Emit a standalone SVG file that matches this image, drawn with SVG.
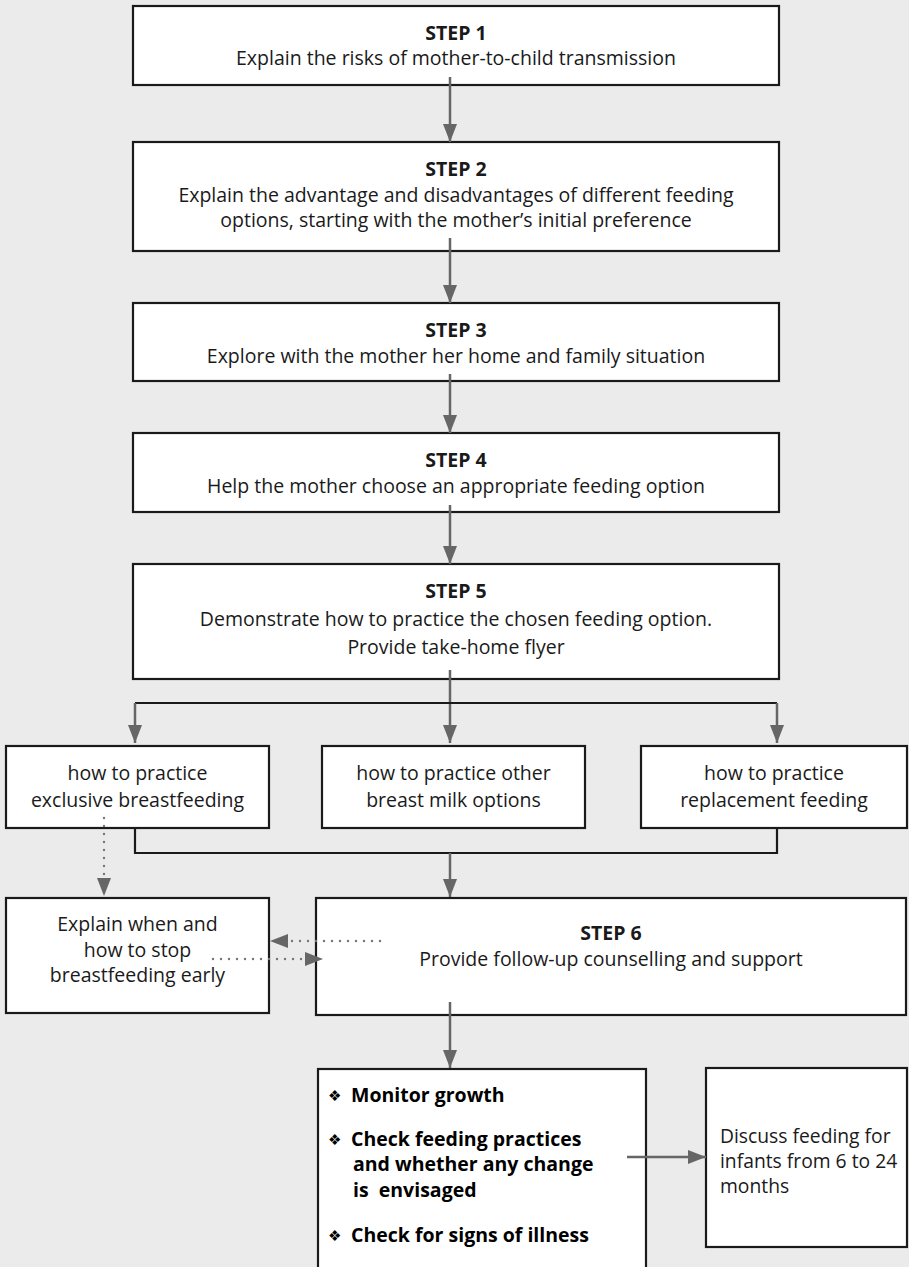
<svg xmlns="http://www.w3.org/2000/svg" width="909" height="1267" viewBox="0 0 909 1267">
<style>
.bg{fill:#ebebeb}
.box{fill:#ffffff;stroke:#1a1a1a;stroke-width:2.2}
.t{font-family:"Open Sans","Noto Sans",sans-serif;font-size:19.5px;fill:#1a1a1a;text-anchor:middle}
.tl{font-family:"Open Sans","Noto Sans",sans-serif;font-size:19.3px;fill:#1a1a1a}
.b{font-weight:bold}
.bl{font-family:"Open Sans","Noto Sans",sans-serif;font-size:19.5px;font-weight:bold;fill:#000}
.dia{font-family:"DejaVu Sans",sans-serif;font-size:15px;fill:#000}
.arr{stroke:#666;stroke-width:2.5;fill:none;marker-end:url(#ah)}
.ln{stroke:#1a1a1a;stroke-width:2.2;fill:none}
.dot{stroke:#777;stroke-width:2.4;fill:none;stroke-dasharray:0 8;stroke-linecap:round;marker-end:url(#ah)}
</style>
<defs>
<marker id="ah" markerUnits="userSpaceOnUse" markerWidth="18" markerHeight="14" refX="18" refY="7" orient="auto">
<path d="M0,0 L18,7 L0,14 z" fill="#666"/>
</marker>
</defs>
<rect class="bg" x="0" y="0" width="909" height="1267"/>

<g id="step1">
<rect class="box" x="133" y="6" width="646" height="79"/>
<text class="t b" x="456" y="40">STEP 1</text>
<text class="t" x="456" y="65">Explain the risks of mother-to-child transmission</text>
</g>
<g id="step2">
<rect class="box" x="133" y="142" width="646" height="109"/>
<text class="t b" x="456" y="176">STEP 2</text>
<text class="t" x="456" y="202">Explain the advantage and disadvantages of different feeding</text>
<text class="t" x="456" y="227">options, starting with the mother’s initial preference</text>
</g>
<g id="step3">
<rect class="box" x="133" y="303" width="646" height="78"/>
<text class="t b" x="456" y="337">STEP 3</text>
<text class="t" x="456" y="363">Explore with the mother her home and family situation</text>
</g>
<g id="step4">
<rect class="box" x="133" y="433" width="646" height="79"/>
<text class="t b" x="456" y="467">STEP 4</text>
<text class="t" x="456" y="493">Help the mother choose an appropriate feeding option</text>
</g>
<g id="step5">
<rect class="box" x="133" y="564" width="646" height="115"/>
<text class="t b" x="456" y="598">STEP 5</text>
<text class="t" x="456" y="626">Demonstrate how to practice the chosen feeding option.</text>
<text class="t" x="456" y="654">Provide take-home flyer</text>
</g>
<g id="opt-exclusive">
<rect class="box" x="6" y="746" width="263" height="82"/>
<text class="t" x="137.5" y="780">how to practice</text>
<text class="t" x="137.5" y="807">exclusive breastfeeding</text>
</g>
<g id="opt-other">
<rect class="box" x="322" y="746" width="263" height="82"/>
<text class="t" x="453.5" y="780">how to practice other</text>
<text class="t" x="453.5" y="807">breast milk options</text>
</g>
<g id="opt-replacement">
<rect class="box" x="641" y="746" width="266" height="82"/>
<text class="t" x="774" y="780">how to practice</text>
<text class="t" x="774" y="807">replacement feeding</text>
</g>
<g id="stop-early">
<rect class="box" x="6" y="898" width="263" height="115"/>
<text class="t" x="137.5" y="931">Explain when and</text>
<text class="t" x="137.5" y="957">how to stop</text>
<text class="t" x="137.5" y="982">breastfeeding early</text>
</g>
<g id="step6">
<rect class="box" x="316" y="898" width="590" height="117"/>
<text class="t b" x="611" y="940">STEP 6</text>
<text class="t" x="611" y="966">Provide follow-up counselling and support</text>
</g>
<g id="followup">
<rect class="box" x="318" y="1069" width="328" height="230"/>
<text class="dia" x="328" y="1101">❖</text>
<text class="bl" x="351" y="1102">Monitor growth</text>
<text class="dia" x="328" y="1145">❖</text>
<text class="bl" x="351" y="1146">Check feeding practices</text>
<text class="bl" x="353" y="1171">and whether any change</text>
<text class="bl" x="353" y="1197" xml:space="preserve">is  envisaged</text>
<text class="dia" x="328" y="1241">❖</text>
<text class="bl" x="351" y="1242">Check for signs of illness</text>
</g>
<g id="older-infants">
<rect class="box" x="706" y="1068" width="201" height="179"/>
<text class="tl" x="720" y="1143">Discuss feeding for</text>
<text class="tl" x="720" y="1168">infants from 6 to 24</text>
<text class="tl" x="720" y="1193">months</text>
</g>

<g id="connectors">
<line class="arr" x1="450" y1="77" x2="450" y2="142"/>
<line class="arr" x1="450" y1="238" x2="450" y2="303"/>
<line class="arr" x1="450" y1="374" x2="450" y2="433"/>
<line class="arr" x1="450" y1="505" x2="450" y2="564"/>
<line class="arr" x1="450" y1="670" x2="450" y2="743"/>
<polyline class="ln" points="135,703 777,703"/>
<line class="arr" x1="135" y1="703" x2="135" y2="743"/>
<line class="arr" x1="777" y1="703" x2="777" y2="743"/>
<polyline class="ln" points="135,828 135,853 777,853 777,828"/>
<line class="arr" x1="450" y1="853" x2="450" y2="897"/>
<line class="arr" x1="450" y1="1002" x2="450" y2="1068"/>
<line class="arr" x1="627" y1="1157" x2="706" y2="1157"/>
<line class="dot" x1="104" y1="818" x2="104" y2="896"/>
<line class="dot" x1="380" y1="941" x2="270" y2="941"/>
<line class="dot" x1="213" y1="959" x2="323" y2="959"/>
</g>
</svg>
